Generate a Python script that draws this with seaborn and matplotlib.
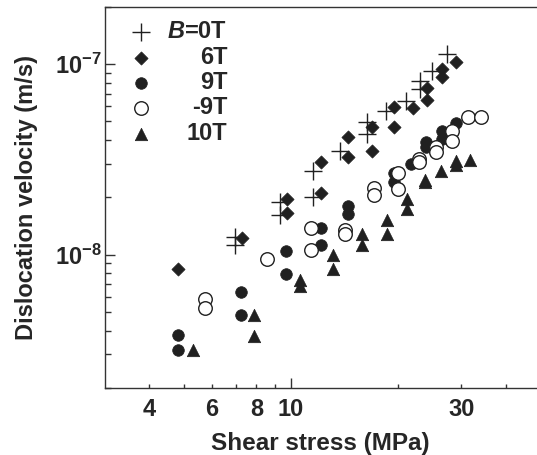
import matplotlib
matplotlib.use("Agg")
import matplotlib.pyplot as plt
import seaborn as sns
import numpy as np

# data (x: shear stress MPa, y: velocity m/s)
x_b0 = [6.95, 6.95, 9.30, 9.30, 11.51, 11.51, 13.67, 16.31, 16.31, 18.41, 21.01, 22.95, 22.95, 24.90, 27.37]
y_b0 = [1.24e-8, 1.13e-8, 1.89e-8, 1.61e-8, 2.76e-8, 2.00e-8, 3.52e-8, 4.95e-8, 4.30e-8, 5.70e-8, 6.43e-8,
        8.18e-8, 7.40e-8, 9.23e-8, 11.28e-8]

x_6 = [4.83, 7.30, 9.72, 9.72, 12.11, 12.11, 14.45, 14.45, 16.86, 16.86, 19.37, 19.37, 21.96, 23.99, 23.99,
       26.49, 26.49, 28.92]
y_6 = [0.845e-8, 1.23e-8, 1.96e-8, 1.65e-8, 3.08e-8, 2.10e-8, 4.16e-8, 3.27e-8, 4.66e-8, 3.52e-8, 5.93e-8,
       4.70e-8, 5.88e-8, 7.49e-8, 6.48e-8, 9.41e-8, 8.58e-8, 10.20e-8]

x_9 = [4.83, 4.83, 7.26, 7.26, 9.67, 9.67, 12.11, 12.11, 14.45, 14.45, 19.37, 19.37, 21.72, 23.88, 23.88,
       26.49, 26.49, 28.92]
y_9 = [0.378e-8, 0.316e-8, 0.637e-8, 0.481e-8, 1.05e-8, 0.795e-8, 1.38e-8, 1.13e-8, 1.81e-8, 1.64e-8,
       2.68e-8, 2.40e-8, 3.00e-8, 3.89e-8, 3.66e-8, 4.48e-8, 4.05e-8, 4.89e-8]

x_m9 = [5.75, 5.75, 8.57, 11.41, 11.41, 14.13, 14.13, 17.04, 17.04, 19.89, 19.89, 22.80, 22.80, 25.51, 25.51,
        28.29, 28.29, 31.23, 34.12]
y_m9 = [0.588e-8, 0.528e-8, 0.953e-8, 1.38e-8, 1.06e-8, 1.34e-8, 1.29e-8, 2.23e-8, 2.05e-8, 2.68e-8, 2.22e-8,
        3.18e-8, 3.06e-8, 3.66e-8, 3.45e-8, 4.48e-8, 3.97e-8, 5.26e-8, 5.30e-8]

x_10 = [5.30, 7.88, 7.88, 10.57, 10.57, 13.08, 13.08, 15.78, 15.78, 18.53, 18.53, 21.15, 21.15, 23.72, 23.72,
        26.37, 28.92, 28.92, 31.72]
y_10 = [0.318e-8, 0.481e-8, 0.374e-8, 0.734e-8, 0.683e-8, 1.00e-8, 0.845e-8, 1.29e-8, 1.12e-8, 1.52e-8,
        1.29e-8, 1.95e-8, 1.74e-8, 2.48e-8, 2.40e-8, 2.74e-8, 3.12e-8, 2.94e-8, 3.14e-8]

labels = [r"$\mathit{B}$=0T", "6T", "9T", "-9T", "10T"]
x_major = [4, 6, 8, 10, 30]
x_minor = [5, 7, 9, 20, 40]

sns.set_theme(style="ticks")
plt.rcParams['font.family'] = ['Liberation Sans', 'DejaVu Sans']
plt.rcParams['font.weight'] = 'bold'
plt.rcParams['mathtext.fontset'] = 'custom'
plt.rcParams['mathtext.rm'] = 'Liberation Sans:bold'
plt.rcParams['mathtext.bf'] = 'Liberation Sans:bold'
plt.rcParams['mathtext.it'] = 'Liberation Sans:italic:bold'

dark = '#202020'
fig = plt.figure(figsize=(5.37, 4.55), dpi=100)
ax = fig.add_axes([0.1946, 0.1473, 0.8054, 0.8380])

sns.scatterplot(x=x_b0, y=y_b0, marker='+', s=150, color=dark, linewidth=1.0, ax=ax, label=labels[0])
sns.scatterplot(x=x_6, y=y_6, marker='D', s=45, color=dark, edgecolor=dark, linewidth=0.5, ax=ax, label=labels[1])
sns.scatterplot(x=x_9, y=y_9, marker='o', s=70, color=dark, edgecolor=dark, linewidth=0.5, ax=ax, label=labels[2])
sns.scatterplot(x=x_m9, y=y_m9, marker='o', s=95, facecolor='white', edgecolor=dark, linewidth=1.0, ax=ax,
                label=labels[3])
sns.scatterplot(x=x_10, y=y_10, marker='^', s=80, color=dark, edgecolor=dark, linewidth=0.5, ax=ax, label=labels[4])

ax.set_xscale('log')
ax.set_yscale('log')
ax.set_xlim(3.0, 48.9)
ax.set_ylim(2e-9, 2e-7)

# spines
for side in ['left', 'bottom', 'top']:
    ax.spines[side].set_color('#333333')
    ax.spines[side].set_linewidth(1.0)
ax.spines['right'].set_visible(False)

# ticks
ax.set_xticks(x_major)
ax.set_xticklabels([str(v) for v in x_major])
ax.set_xticks(x_minor, minor=True)
ax.xaxis.set_minor_formatter(matplotlib.ticker.NullFormatter())
ax.set_yticks([1e-8, 1e-7])
ax.set_yticklabels([r'$\mathbf{10^{-8}}$', r'$\mathbf{10^{-7}}$'])
ax.yaxis.set_minor_locator(matplotlib.ticker.LogLocator(base=10, subs=np.arange(2, 10)))
ax.yaxis.set_minor_formatter(matplotlib.ticker.NullFormatter())

ax.tick_params(axis='x', which='both', direction='in', length=3, width=1, color='#333333',
               labelsize=17, pad=7, top=False)
ax.tick_params(axis='y', which='major', direction='in', length=7, width=1, color='#333333',
               labelsize=17, pad=2, right=False)
ax.tick_params(axis='y', which='minor', direction='in', length=4, width=1, color='#333333', right=False)
ax.xaxis.get_major_ticks()[3].tick1line.set_markersize(7)

ax.set_xlabel('Shear stress (MPa)', fontsize=17.5, fontweight='bold', labelpad=8)
ax.set_ylabel('Dislocation velocity (m/s)', fontsize=17, fontweight='bold', labelpad=12)

leg = ax.legend(loc='upper left', bbox_to_anchor=(0.030, 0.995), frameon=False, fontsize=17,
                handlelength=1.0, handletextpad=0.6, labelspacing=0.1, borderpad=0.0)
fig.canvas.draw()
renderer = fig.canvas.get_renderer()
widths = [t.get_window_extent(renderer).width for t in leg.get_texts()]
for t, w in zip(leg.get_texts(), widths):
    t.set_position((max(widths) - w, 0))

fig.savefig('out.png', dpi=100)
